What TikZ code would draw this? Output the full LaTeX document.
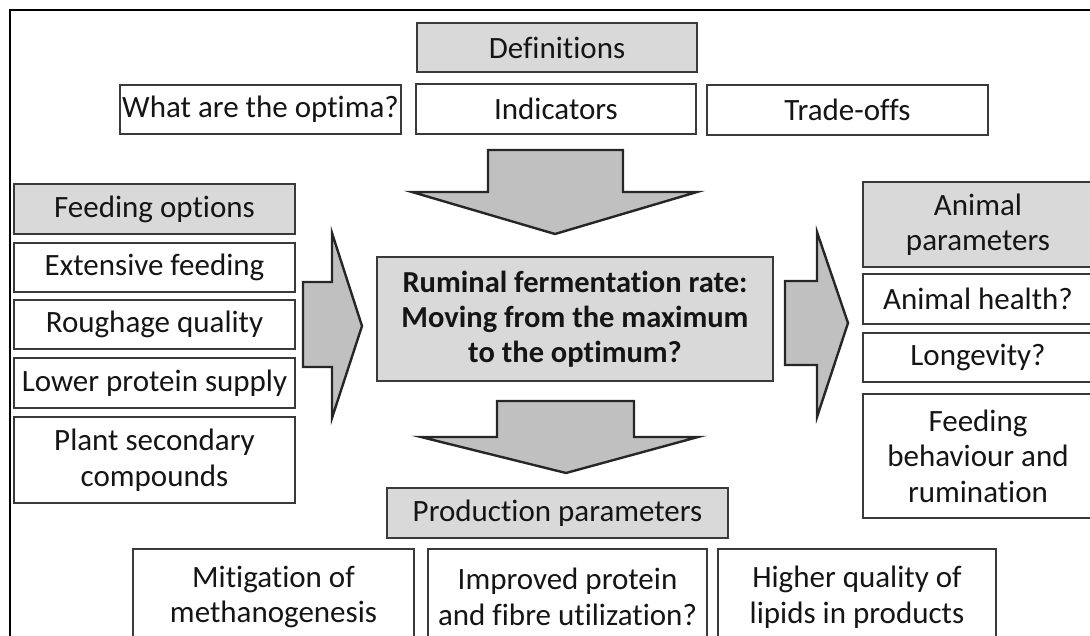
\documentclass[tikz,border=0pt]{standalone}
\usepackage{fontspec}
\setmainfont{Carlito}[Ligatures={NoCommon,NoContextual,NoRequired}]
\definecolor{boxline}{HTML}{3A3A3A}
\definecolor{headfill}{HTML}{D9D9D9}
\definecolor{arrfill}{HTML}{C0C0C0}
\definecolor{arrline}{HTML}{262626}
\definecolor{txt}{HTML}{151515}
\tikzset{
  base/.style={draw=boxline, line width=1.6pt, inner sep=0pt, outer sep=0pt, align=center, text=txt, font=\fontsize{31}{35.5}\selectfont},
  plain/.style={base, fill=white},
  head/.style={base, fill=headfill},
  centerbox/.style={head, font=\fontsize{30.5}{35}\selectfont\bfseries},
  bigarrow/.style={draw=arrline, line width=2.4pt, fill=arrfill, line join=miter},
  frameline/.style={draw=black, line width=2.6pt},
}
\newcommand\bx[7]{\node[#6, minimum width={(#4-#2)*1pt}, minimum height={(#5-#3)*1pt}] (#1) at ({(#2+#4)/2},{(#3+#5)/2}) {#7};}
\begin{document}
\begin{tikzpicture}[x=1pt,y=-1pt]
\useasboundingbox (0,0) rectangle (1090,636);
\clip (0,0) rectangle (1090,636);
% frame
\draw[frameline] (10,645) -- (10,10) -- (1100,10);
% top
\bx{defn}{417}{23}{697}{72}{head}{Definitions}
\bx{optima}{120}{85}{401}{134}{plain}{What are the optima?}
\bx{indic}{416}{84}{696}{134}{plain}{Indicators}
\bx{trade}{707}{85}{988}{135}{plain}{Trade-offs}
% left
\bx{feedopt}{14}{184}{295}{234}{head}{Feeding options}
\bx{ext}{14}{243}{295}{292}{plain}{Extensive feeding}
\bx{rough}{14}{300}{295}{349}{plain}{Roughage quality}
\bx{lowprot}{14}{358}{295}{408}{plain}{Lower protein supply}
\bx{plant}{14}{417}{295}{503}{plain}{Plant secondary\\compounds}
% center
\bx{center}{377}{257}{773}{381}{centerbox}{Ruminal fermentation rate:\\Moving from the maximum\\to the optimum?}
% bottom
\bx{prod}{387}{488}{728}{538}{head}{Production parameters}
\bx{mitig}{133}{549}{414}{645}{plain}{Mitigation of\\methanogenesis}
\bx{improved}{428}{549}{707}{645}{plain}{Improved protein\\and fibre utilization?}
\bx{higher}{718}{549}{996}{645}{plain}{Higher quality of\\lipids in products}
% right
\bx{animal}{863}{182}{1093}{267}{head}{Animal\\parameters}
\bx{health}{863}{274}{1093}{324}{plain}{Animal health?}
\bx{longev}{863}{333}{1093}{382}{plain}{Longevity?}
\bx{behav}{863}{394}{1093}{518}{plain}{Feeding\\behaviour and\\rumination}
% block arrows
\draw[bigarrow] (488,150) -- (623,150) -- (623,192) -- (697,192) -- (555,234) -- (412,192) -- (488,192) -- cycle;
\draw[bigarrow] (497,401) -- (634,401) -- (634,437) -- (698,437) -- (566,473) -- (421,437) -- (497,437) -- cycle;
\draw[bigarrow] (303,282) -- (332,282) -- (332,233) -- (362,326) -- (332,418) -- (332,367) -- (303,367) -- cycle;
\draw[bigarrow] (785,281) -- (817,281) -- (817,232) -- (848,323) -- (817,417) -- (817,365) -- (785,365) -- cycle;
\end{tikzpicture}
\end{document}
